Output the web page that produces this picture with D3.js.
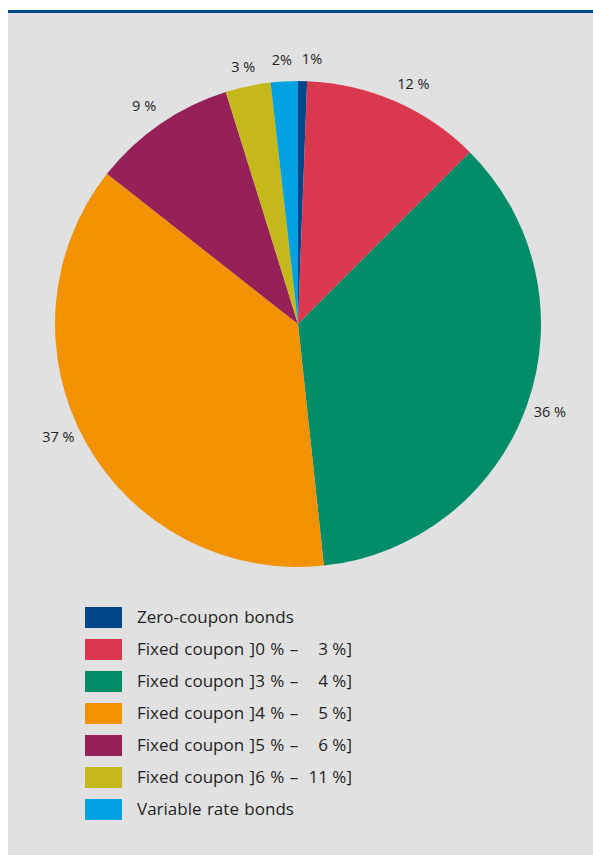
<!DOCTYPE html>
<html><head><meta charset="utf-8">
<script src="https://cdn.jsdelivr.net/npm/d3@7"></script>
<style>
html,body{margin:0;padding:0;background:#fff;}
svg{display:block;}
text{font-family:"Open Sans","Noto Sans",sans-serif;fill:#1f1f1f;}
</style></head>
<body>
<script>
const categories = ["Zero-coupon bonds","Fixed coupon ]0 % \u2013|3 %]","Fixed coupon ]3 % \u2013|4 %]","Fixed coupon ]4 % \u2013|5 %]","Fixed coupon ]5 % \u2013|6 %]","Fixed coupon ]6 % \u2013|11 %]","Variable rate bonds"];
const values = [0.6, 11.9, 35.8, 37.3, 9.6, 3.0, 1.8];
const labels = ["1%", "12 %", "36 %", "37 %", "9 %", "3 %", "2%"];
const colors = ["#00468b","#d9384f","#008c68","#f39200","#962159","#c5b81b","#00a1e1"];

const W = 593, H = 855;
const svg = d3.select("body").append("svg").attr("width", W).attr("height", H);
svg.append("rect").attr("x", 8).attr("y", 10).attr("width", W - 8).attr("height", H - 10).attr("fill", "#e1e1e1");
svg.append("rect").attr("x", 8).attr("y", 10).attr("width", W - 8).attr("height", 3).attr("fill", "#004a8f");

const cx = 298, cy = 324, r = 243;
const pie = d3.pie().sort(null).value(d => d)(values);
const arc = d3.arc().innerRadius(0).outerRadius(r);
const g = svg.append("g").attr("transform", `translate(${cx},${cy})`);
g.selectAll("path").data(pie).join("path").attr("d", arc).attr("fill", (d, i) => colors[i]);

const labelArc = d3.arc().innerRadius(266).outerRadius(266);
const nudgeX = [9, 9, 1, -7, -3, 0, -1];
const nudgeY = [1, 4, -1, -16, 1, 3, 1];
g.selectAll("text.lbl").data(pie).join("text").attr("class", "lbl")
  .attr("x", (d, i) => labelArc.centroid(d)[0] + nudgeX[i])
  .attr("y", (d, i) => labelArc.centroid(d)[1] + nudgeY[i])
  .attr("dy", "0.35em").attr("text-anchor", "middle")
  .style("font-size", "14.5px")
  .text((d, i) => labels[i]);

const leg = svg.append("g").attr("transform", "translate(85,607)");
const rows = leg.selectAll("g").data(categories).join("g").attr("transform", (d, i) => `translate(0,${i * 32})`);
rows.append("rect").attr("width", 37).attr("height", 21).attr("fill", (d, i) => colors[i]);
rows.append("text").attr("x", 52).attr("y", 10.5).attr("dy", "0.35em").style("font-size", "17px")
  .style("word-spacing", "1px")
  .text(d => d.split("|")[0]);
rows.filter(d => d.includes("|")).append("text").attr("x", 267).attr("y", 10.5).attr("dy", "0.35em")
  .attr("text-anchor", "end").style("font-size", "17px")
  .text(d => d.split("|")[1]);
</script>
</body></html>
